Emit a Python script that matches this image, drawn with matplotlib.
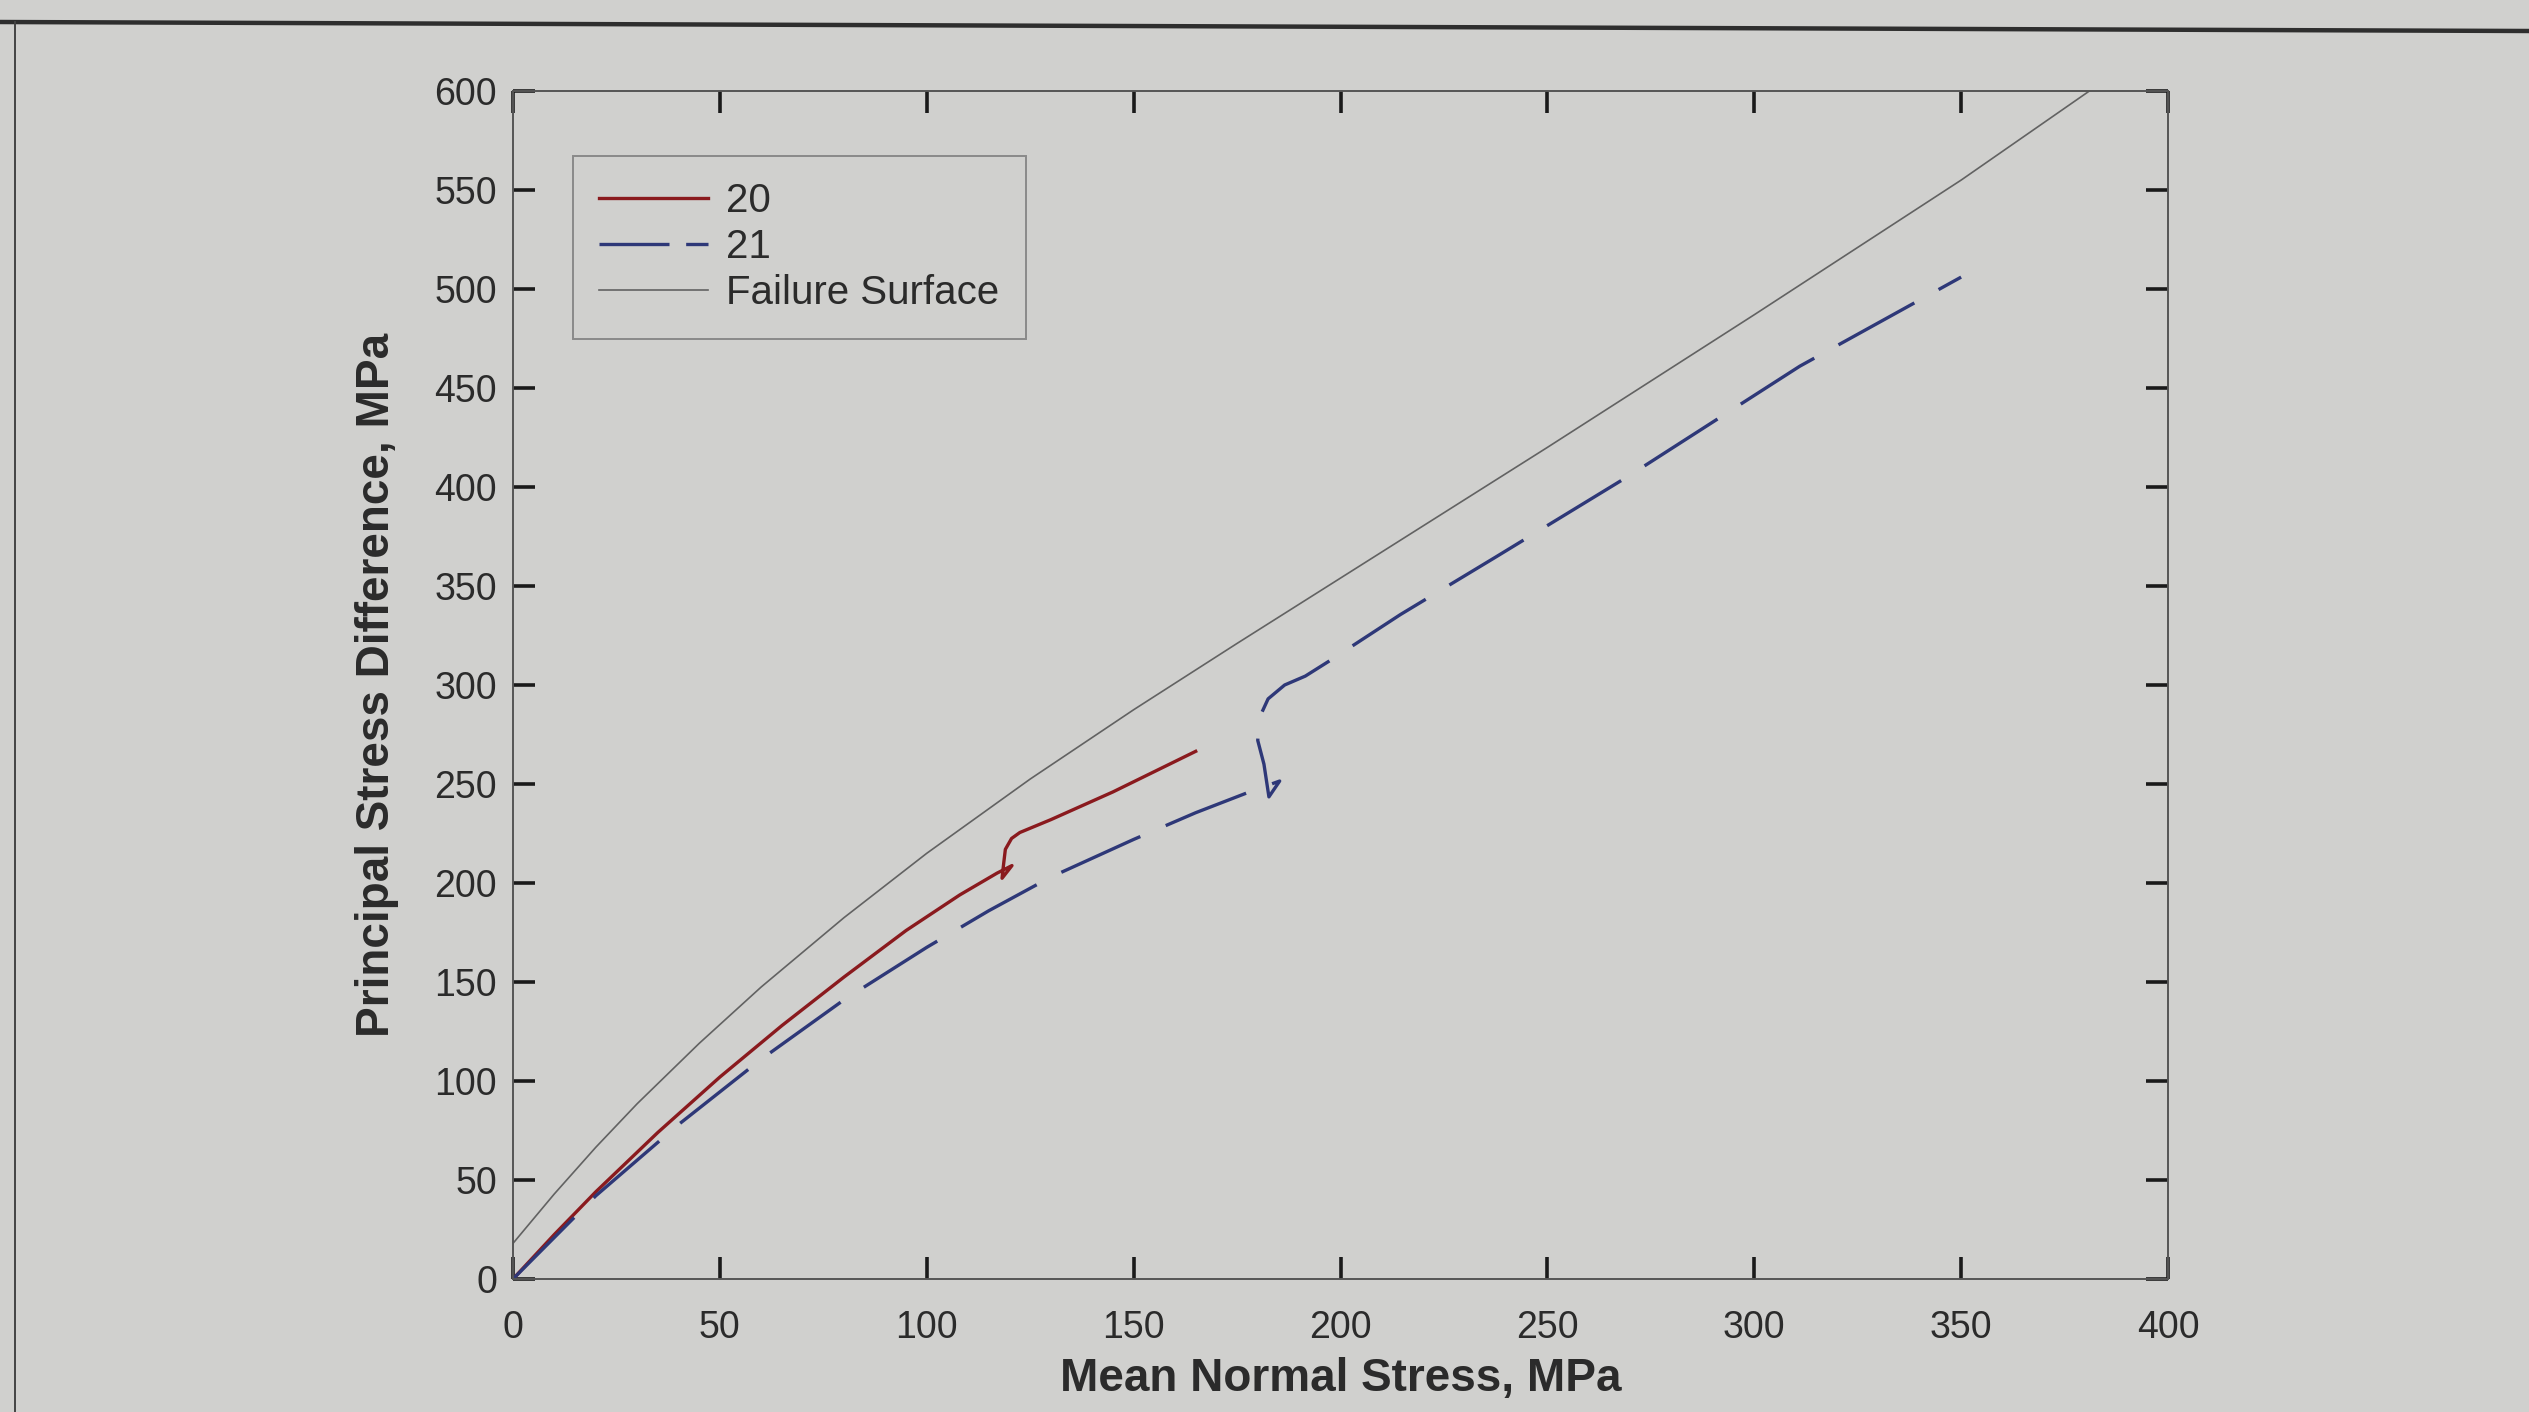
#!/usr/bin/env python3
"""Stress paths of tests 20 and 21 against the failure surface (p-q plane)."""

import matplotlib

matplotlib.use("Agg")
import matplotlib.pyplot as plt
from matplotlib.lines import Line2D

# test 20: mean normal stress / principal stress difference, MPa
TEST20_P = [0, 10, 20, 35, 50, 65, 80, 95, 108, 117, 120.6, 118.2, 118.6, 119.0,
            120.5, 122.5, 130, 145, 165]
TEST20_Q = [0, 22.5, 44, 74, 102, 128, 152.5, 176, 194, 205, 208.8, 202.4, 210, 217,
            222.5, 225.5, 232, 246, 266.5]

# test 21
TEST21_P = [0, 20, 40, 60, 80, 100, 115, 130, 150, 165, 178, 185.3, 182.7, 181.5,
            180.0, 180.3, 182.5, 186.5, 191.5, 197.2, 214.5, 237.5, 270, 311, 350]
TEST21_Q = [0, 42, 78, 111, 141, 167.5, 186, 203, 222, 235.5, 246, 251.5, 243.5, 260,
            272, 283, 293, 300, 304.5, 312, 335.6, 364.6, 406, 461, 506]

# failure surface
FAIL_P = [0, 10, 20, 30, 45, 60, 80, 100, 125, 150, 175, 200, 250, 300, 350, 381]
FAIL_Q = [18, 43, 66.5, 88.5, 119, 147.5, 182.5, 215, 252.5, 287.5, 321, 354, 420,
          487, 555, 600]

SERIES_LABELS = ["20", "21", "Failure Surface"]
X_TICKS = list(range(0, 401, 50))
Y_TICKS = list(range(0, 601, 50))

BG = "#d0d0ce"
INK = "#2b2b2b"
RED = "#8a1a1e"
BLUE = "#2e3878"


def main() -> None:
    plt.rcParams["font.family"] = ["Liberation Sans", "DejaVu Sans"]

    W, H = 2529, 1412
    fig = plt.figure(figsize=(W / 100, H / 100), dpi=100)
    fig.patch.set_facecolor(BG)

    # page frame lines around the figure
    fig.add_artist(Line2D([0, 1], [1 - 22 / H, 1 - 31 / H], transform=fig.transFigure,
                          color="#2e2e2e", lw=3.2))
    fig.add_artist(Line2D([15 / W, 15 / W], [0, 1 - 22 / H], transform=fig.transFigure,
                          color="#444444", lw=1.4))

    left, right, bottom, top = 513, 2168, 1279, 91
    ax = fig.add_axes([left / W, 1 - bottom / H, (right - left) / W, (bottom - top) / H])
    ax.set_facecolor(BG)

    ax.plot(TEST20_P, TEST20_Q, color=RED, lw=2.4, label=SERIES_LABELS[0],
            solid_joinstyle="round")
    (l21,) = ax.plot(TEST21_P, TEST21_Q, color=BLUE, lw=2.4, label=SERIES_LABELS[1],
                     solid_joinstyle="round")
    l21.set_dashes([26, 8.3])
    ax.plot(FAIL_P, FAIL_Q, color="#626262", lw=1.2, label=SERIES_LABELS[2])

    ax.set_xlim(0, 400)
    ax.set_ylim(0, 600)
    ax.set_xticks(X_TICKS)
    ax.set_yticks(Y_TICKS)

    ax.tick_params(direction="in", length=15.8, width=2.6, color="#1a1a1a",
                   top=True, right=True, labelsize=27, labelcolor=INK)
    ax.tick_params(axis="x", pad=22)
    ax.tick_params(axis="y", pad=11.5)
    for sp in ax.spines.values():
        sp.set_color("#555555")
        sp.set_linewidth(1.4)

    ax.set_xlabel("Mean Normal Stress, MPa", fontsize=33, fontweight="bold", color=INK)
    ax.set_ylabel("Principal Stress Difference, MPa", fontsize=33, fontweight="bold",
                  color=INK)
    ax.xaxis.set_label_coords(0.5, -0.0845)
    ax.xaxis.label.set_va("center")
    ax.yaxis.set_label_coords(-0.082, 0.5)
    ax.yaxis.label.set_va("center")

    leg = ax.legend(loc="upper left", bbox_to_anchor=(0.0361, 0.9457), borderaxespad=0,
                    fontsize=29, handlelength=2.7, handletextpad=0.45,
                    borderpad=0.66, labelspacing=0.2, fancybox=False,
                    framealpha=1, facecolor=BG, edgecolor="#8a8a8a")
    leg.get_frame().set_linewidth(1.4)
    # legend sample for 21 shows one long and one short dash
    leg.get_lines()[1].set_dashes([21, 5])
    for t in leg.get_texts():
        t.set_color(INK)

    fig.savefig("out.png", dpi=100, facecolor=BG)
    plt.close(fig)


if __name__ == "__main__":
    main()
